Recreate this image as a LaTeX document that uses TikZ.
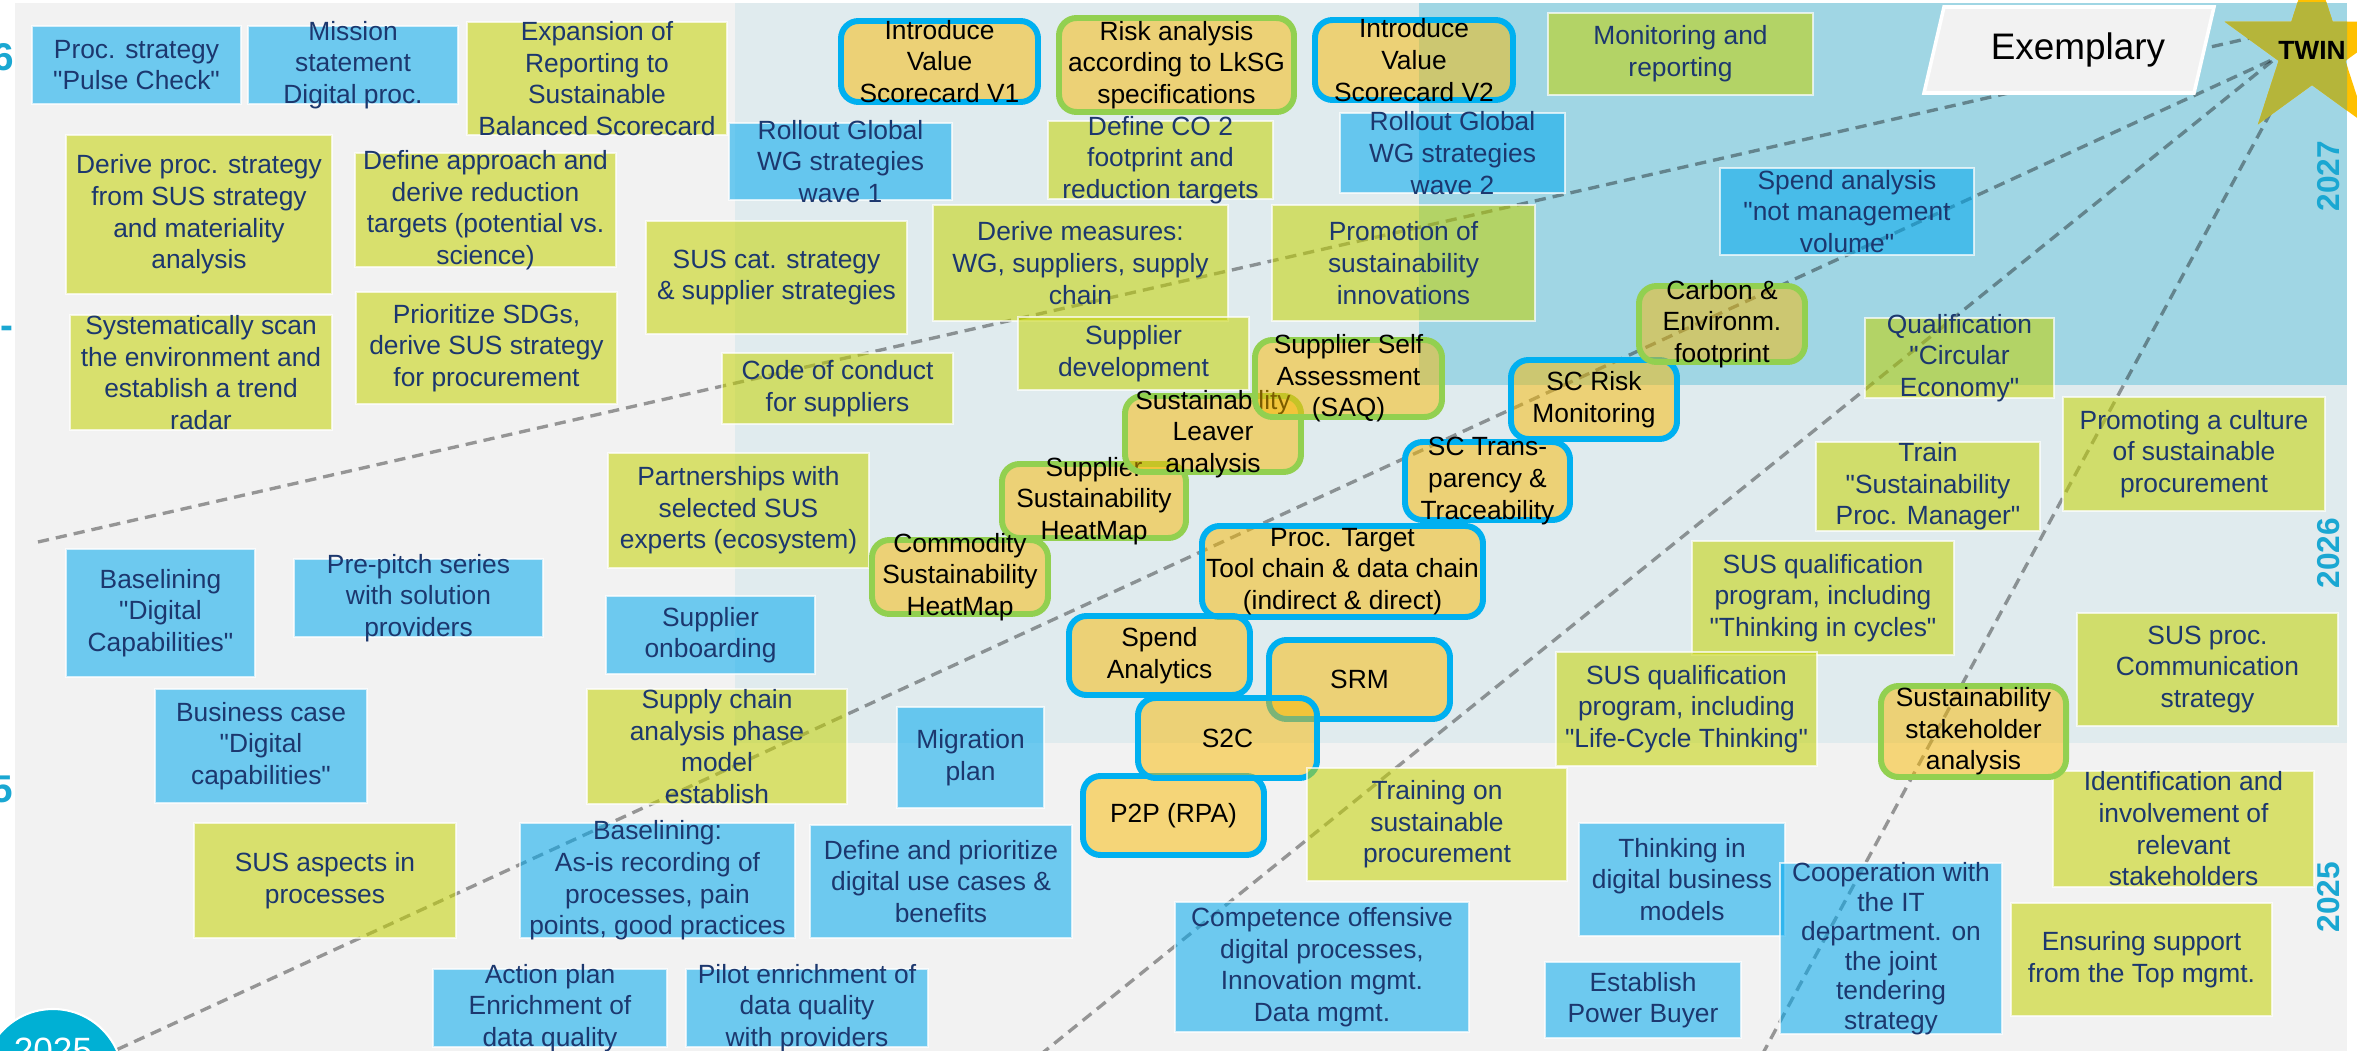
\documentclass[tikz,border=0pt]{standalone}
\usepackage{fontspec}
\setmainfont{Liberation Sans}
\newfontfamily\boxfont{Liberation Sans}
\usetikzlibrary{shapes.geometric}

\definecolor{bggrey}{HTML}{F2F2F2}
\definecolor{zonelight}{HTML}{E0EBEE}
\definecolor{zoneblue}{HTML}{A0D6E4}
\definecolor{boxblue}{RGB}{0,168,238}
\definecolor{boxgreen}{RGB}{196,210,0}
\definecolor{boxorange}{RGB}{248,185,0}
\definecolor{framecyan}{HTML}{00B0F0}
\definecolor{framegreen}{HTML}{92D050}
\definecolor{navytxt}{RGB}{28,55,110}
\definecolor{yearcyan}{HTML}{1AA7D2}
\definecolor{ballteal}{HTML}{00B0D4}
\definecolor{starorange}{HTML}{FFC000}
\definecolor{starolive}{HTML}{B5B53A}

\begin{document}
\begin{tikzpicture}[
    x=1cm, y=-1cm,
    bbox/.style={rectangle, fill=boxblue, fill opacity=0.55, draw=white, draw opacity=0.7, line width=0.5pt, inner sep=0pt},
    gbox/.style={bbox, fill=boxgreen},
    obox/.style={rectangle, rounded corners=5pt, fill=boxorange, fill opacity=0.5, line width=1.7pt, inner sep=0pt},
    cframe/.style={obox, draw=framecyan},
    gframe/.style={obox, draw=framegreen},
    txt/.style={font=\boxfont\fontsize{7.5}{9}\selectfont, text=navytxt, align=center, text opacity=1, draw=none, fill=none, inner sep=0pt},
    otxt/.style={txt, text=black},
    year/.style={font=\fontsize{9}{9}\selectfont\bfseries, text=yearcyan, rotate=90, inner sep=0pt},
    yearfrag/.style={font=\fontsize{11}{11}\selectfont\bfseries, text=yearcyan, inner sep=0pt, anchor=east},
    yearball/.style={circle, fill=ballteal, draw=white, line width=0.6pt, minimum size=1.40cm, inner sep=0pt},
    twinstar/.style={star, star points=5, star point ratio=2.618, minimum size=1.84cm, inner sep=0pt},
    ray/.style={draw=black, draw opacity=0.38, line width=0.95pt, dash pattern=on 3.2pt off 2pt}
]
    \useasboundingbox (0,0) rectangle (23.57,10.51);
    \clip (0,0) rectangle (23.57,10.51);

    % Background zones
    \fill[white] (0,0) rectangle (23.57,10.51);
    \fill[bggrey] (0.15,0.03) rectangle (23.47,10.51);
    \fill[zonelight] (7.35,0.03) rectangle (23.47,7.43);
    \fill[zoneblue] (14.19,0.03) rectangle (23.47,3.85);

    % Year labels
    \node[yearfrag] (frag6) at (0.15,0.57) {6};
    \node[yearfrag] (fragdash) at (0.14,3.32) {-};
    \node[yearfrag] (frag5) at (0.14,7.89) {5};
    \node[year] (yr2027) at (23.29,1.76) {2027};
    \node[year] (yr2026) at (23.29,5.53) {2026};
    \node[year] (yr2025lbl) at (23.29,8.97) {2025};

    % Start ball
    \node[yearball] (yr2025) at (0.53,10.79) {};
    \node[font=\fontsize{10}{10}\selectfont, text=white, inner sep=0pt] (yr2025txt) at (0.53,10.50) {2025};

    % Rays towards the star
    \coordinate (r1a) at (0.38,5.42);
    \coordinate (r1b) at (22.50,0.38);
    \coordinate (r2b) at (22.76,0.58);
    \coordinate (r3a) at (10.40,10.55);
    \coordinate (r3b) at (22.76,0.58);
    \coordinate (r4a) at (17.62,10.55);
    \coordinate (r4b) at (22.85,0.86);
    \draw[ray] (r1a) -- (r1b);
    \draw[ray] (yr2025) -- (r2b);
    \draw[ray] (r3a) -- (r3b);
    \draw[ray] (r4a) -- (r4b);

    % Exemplary
    \filldraw[fill=bggrey, draw=white, line width=1pt] (19.44,0.07) -- (22.14,0.07) -- (21.94,0.93) -- (19.24,0.93) -- cycle;
    \node[font=\fontsize{10.5}{12}\selectfont, inner sep=0pt] (exemplary) at (20.78,0.50) {Exemplary};

    % TWIN star
    \node[twinstar, fill=starorange] (twin) at (23.12,0.50) {};
    \begin{scope}
        \clip (14.19,0.03) rectangle (23.47,3.85);
        \node[twinstar, fill=starolive] (twinshade) at (twin) {};
    \end{scope}
    \node[font=\fontsize{7.5}{9}\selectfont\bfseries, inner sep=0pt] (twintext) at (twin) {TWIN};

    % Proc. strategy
    \node[bbox, minimum width=2.09cm, minimum height=0.78cm, label={[txt]center:{Proc. strategy\\"Pulse Check"}}] (pulse) at (1.365,0.65) {};
    % Mission statement
    \node[bbox, minimum width=2.10cm, minimum height=0.78cm, label={[txt]center:{Mission\\statement\\Digital proc.}}] (mission) at (3.53,0.65) {};
    % Expansion of reporting
    \node[gbox, minimum width=2.60cm, minimum height=1.13cm, label={[txt]center:{Expansion of\\Reporting to\\Sustainable\\Balanced Scorecard}}] (expansion) at (5.97,0.785) {};
    % Value Scorecard V1
    \node[cframe, minimum width=1.97cm, minimum height=0.81cm, label={[otxt]center:{Introduce\\Value\\Scorecard V1}}] (valuev1) at (9.395,0.615) {};
    % Risk analysis LkSG
    \node[gframe, minimum width=2.35cm, minimum height=0.94cm, label={[otxt]center:{Risk analysis\\according to LkSG\\specifications}}] (lksg) at (11.765,0.65) {};
    % Value Scorecard V2
    \node[cframe, minimum width=1.98cm, minimum height=0.80cm, label={[otxt]center:{Introduce\\Value\\Scorecard V2}}] (valuev2) at (14.14,0.60) {};
    % Monitoring
    \node[gbox, minimum width=2.65cm, minimum height=0.82cm, label={[txt]center:{Monitoring and\\reporting}}] (monitor) at (16.805,0.54) {};
    % Derive proc. strategy
    \node[gbox, minimum width=2.66cm, minimum height=1.59cm, label={[txt]center:{Derive proc. strategy\\from SUS strategy\\and materiality\\analysis}}] (deriveproc) at (1.99,2.145) {};
    % Define approach
    \node[gbox, minimum width=2.61cm, minimum height=1.14cm, label={[txt]center:{Define approach and\\derive reduction\\targets (potential vs.\\science)}}] (approach) at (4.855,2.10) {};
    % Rollout wave 1
    \node[bbox, minimum width=2.23cm, minimum height=0.77cm, label={[txt]center:{Rollout Global\\WG strategies\\wave 1}}] (rollout1) at (8.405,1.615) {};
    % CO2 footprint
    \node[gbox, minimum width=2.25cm, minimum height=0.78cm, label={[txt]center:{Define CO 2\\footprint and\\reduction targets}}] (co2) at (11.605,1.60) {};
    % Rollout wave 2
    \node[bbox, minimum width=2.25cm, minimum height=0.80cm, label={[txt]center:{Rollout Global\\WG strategies\\wave 2}}] (rollout2) at (14.525,1.53) {};
    % Spend analysis
    \node[bbox, minimum width=2.54cm, minimum height=0.87cm, label={[txt]center:{Spend analysis\\"not management\\volume"}}] (spendana) at (18.47,2.115) {};
    % SUS category strategy
    \node[gbox, minimum width=2.61cm, minimum height=1.13cm, label={[txt]center:{SUS cat. strategy\\\& supplier strategies}}] (suscat) at (7.765,2.775) {};
    % Derive measures
    \node[gbox, minimum width=2.95cm, minimum height=1.16cm, label={[txt]center:{Derive measures:\\WG, suppliers, supply\\chain}}] (measures) at (10.805,2.63) {};
    % Promotion of innovations
    \node[gbox, minimum width=2.63cm, minimum height=1.16cm, label={[txt]center:{Promotion of\\sustainability\\innovations}}] (promotion) at (14.035,2.63) {};
    % Trend radar
    \node[gbox, minimum width=2.62cm, minimum height=1.15cm, label={[txt]center:{Systematically scan\\the environment and\\establish a trend\\radar}}] (scan) at (2.01,3.725) {};
    % Prioritize SDGs
    \node[gbox, minimum width=2.61cm, minimum height=1.12cm, label={[txt]center:{Prioritize SDGs,\\derive SUS strategy\\for procurement}}] (sdgs) at (4.865,3.48) {};
    % Code of conduct
    \node[gbox, minimum width=2.31cm, minimum height=0.71cm, label={[txt]center:{Code of conduct\\for suppliers}}] (conduct) at (8.375,3.885) {};
    % Supplier development
    \node[gbox, minimum width=2.31cm, minimum height=0.73cm, label={[txt]center:{Supplier\\development}}] (suppdev) at (11.335,3.535) {};
    % Circular economy
    \node[gbox, minimum width=1.89cm, minimum height=0.80cm, label={[txt]center:{Qualification\\"Circular\\Economy"}}] (circular) at (19.595,3.58) {};
    % Culture
    \node[gbox, minimum width=2.62cm, minimum height=1.14cm, label={[txt]center:{Promoting a culture\\of sustainable\\procurement}}] (culture) at (21.94,4.54) {};
    % Partnerships
    \node[gbox, minimum width=2.61cm, minimum height=1.15cm, label={[txt]center:{Partnerships with\\selected SUS\\experts (ecosystem)}}] (partner) at (7.385,5.105) {};
    % Train manager
    \node[gbox, minimum width=2.24cm, minimum height=0.89cm, label={[txt]center:{Train\\"Sustainability\\Proc. Manager"}}] (train) at (19.28,4.865) {};
    % Supplier HeatMap
    \node[gframe, minimum width=1.84cm, minimum height=0.74cm, label={[otxt]center:{Supplier\\Sustainability\\HeatMap}}] (suppheat) at (10.94,5.01) {};
    % Commodity HeatMap
    \node[gframe, minimum width=1.76cm, minimum height=0.74cm, label={[otxt]center:{Commodity\\Sustainability\\HeatMap}}] (commheat) at (9.60,5.77) {};
    % Leaver analysis
    \node[gframe, minimum width=1.76cm, minimum height=0.76cm, label={[otxt]center:{Sustainability\\Leaver\\analysis}}] (leaver) at (12.13,4.34) {};
    % SAQ
    \node[gframe, minimum width=1.87cm, minimum height=0.77cm, label={[otxt]center:{Supplier Self\\Assessment\\(SAQ)}}] (saq) at (13.485,3.785) {};
    % SC Risk
    \node[cframe, minimum width=1.66cm, minimum height=0.79cm, label={[otxt]center:{SC Risk\\Monitoring}}] (scrisk) at (15.94,3.995) {};
    % Carbon footprint
    \node[gframe, minimum width=1.66cm, minimum height=0.76cm, label={[otxt]center:{Carbon \&\\Environm.\\footprint}}] (carbon) at (17.22,3.24) {};
    % SC Transparency
    \node[cframe, minimum width=1.65cm, minimum height=0.78cm, label={[otxt]center:{SC Trans-\\parency \&\\Traceability}}] (sctrans) at (14.875,4.81) {};
    % Thinking in cycles
    \node[gbox, minimum width=2.62cm, minimum height=1.14cm, label={[txt]center:{SUS qualification\\program, including\\"Thinking in cycles"}}] (cycles) at (18.23,5.98) {};
    % Baselining capabilities
    \node[bbox, minimum width=1.89cm, minimum height=1.28cm, label={[txt]center:{Baselining\\"Digital\\Capabilities"}}] (basedig) at (1.605,6.13) {};
    % Pre-pitch
    \node[bbox, minimum width=2.49cm, minimum height=0.78cm, label={[txt]center:{Pre-pitch series\\with solution\\providers}}] (prepitch) at (4.185,5.98) {};
    % Supplier onboarding
    \node[bbox, minimum width=2.09cm, minimum height=0.78cm, label={[txt]center:{Supplier\\onboarding}}] (onboard) at (7.105,6.35) {};
    % Proc. Target
    \node[cframe, minimum width=2.81cm, minimum height=0.91cm, label={[otxt]center:{Proc. Target\\Tool chain \& data chain\\(indirect \& direct)}}] (proctarget) at (13.425,5.715) {};
    % Spend Analytics
    \node[cframe, minimum width=1.81cm, minimum height=0.79cm, label={[otxt]center:{Spend\\Analytics}}] (spendanalytics) at (11.595,6.555) {};
    % SRM
    \node[cframe, minimum width=1.81cm, minimum height=0.79cm, label={[otxt]center:{SRM}}] (srm) at (13.595,6.795) {};
    % Communication strategy
    \node[gbox, minimum width=2.61cm, minimum height=1.13cm, label={[txt]center:{SUS proc.\\Communication\\strategy}}] (commstrat) at (22.075,6.695) {};
    % Business case
    \node[bbox, minimum width=2.12cm, minimum height=1.14cm, label={[txt]center:{Business case\\"Digital\\capabilities"}}] (bizcase) at (2.61,7.46) {};
    % Supply chain analysis
    \node[gbox, minimum width=2.60cm, minimum height=1.15cm, label={[txt]center:{Supply chain\\analysis phase\\model\\establish}}] (supplychain) at (7.17,7.465) {};
    % Migration plan
    \node[bbox, minimum width=1.47cm, minimum height=1.01cm, label={[txt]center:{Migration\\plan}}] (migration) at (9.705,7.575) {};
    % P2P
    \node[cframe, minimum width=1.81cm, minimum height=0.79cm, label={[otxt]center:{P2P (RPA)}}] (p2p) at (11.735,8.155) {};
    % S2C
    \node[cframe, minimum width=1.79cm, minimum height=0.80cm, label={[otxt]center:{S2C}}] (s2c) at (12.275,7.38) {};
    % Life-Cycle Thinking
    \node[gbox, minimum width=2.61cm, minimum height=1.14cm, label={[txt]center:{SUS qualification\\program, including\\"Life-Cycle Thinking"}}] (lct) at (16.865,7.09) {};
    % Identification of stakeholders
    \node[gbox, minimum width=2.61cm, minimum height=1.16cm, label={[txt]center:{Identification and\\involvement of\\relevant\\stakeholders}}] (identify) at (21.835,8.29) {};
    % Stakeholder analysis
    \node[gframe, minimum width=1.85cm, minimum height=0.91cm, label={[otxt]center:{Sustainability\\stakeholder\\analysis}}] (stakeholder) at (19.735,7.315) {};
    % Training on procurement
    \node[gbox, minimum width=2.60cm, minimum height=1.13cm, label={[txt]center:{Training on\\sustainable\\procurement}}] (trainingsus) at (14.37,8.245) {};
    % SUS aspects
    \node[gbox, minimum width=2.62cm, minimum height=1.15cm, label={[txt]center:{SUS aspects in\\processes}}] (susasp) at (3.25,8.805) {};
    % Baselining as-is
    \node[bbox, minimum width=2.75cm, minimum height=1.15cm, label={[txt]center:{Baselining:\\As-is recording of\\processes, pain\\points, good practices}}] (baseasis) at (6.575,8.805) {};
    % Use cases
    \node[bbox, minimum width=2.62cm, minimum height=1.13cm, label={[txt]center:{Define and prioritize\\digital use cases \&\\benefits}}] (usecases) at (9.41,8.815) {};
    % Business models
    \node[bbox, minimum width=2.06cm, minimum height=1.13cm, label={[txt]center:{Thinking in\\digital business\\models}}] (bizmodels) at (16.82,8.795) {};
    % IT cooperation
    \node[bbox, minimum width=2.22cm, minimum height=1.71cm, label={[txt, font=\boxfont\fontsize{7.5}{8.4}\selectfont]center:{Cooperation with\\the IT\\department. on\\the joint\\tendering\\strategy}}] (itcoop) at (18.91,9.485) {};
    % Competence offensive
    \node[bbox, minimum width=2.94cm, minimum height=1.30cm, label={[txt]center:{Competence offensive\\digital processes,\\Innovation mgmt.\\Data mgmt.}}] (competence) at (13.22,9.67) {};
    % Top management
    \node[gbox, minimum width=2.61cm, minimum height=1.13cm, label={[txt]center:{Ensuring support\\from the Top mgmt.}}] (topmgmt) at (21.415,9.595) {};
    % Action plan
    \node[bbox, minimum width=2.34cm, minimum height=0.78cm, label={[txt]center:{Action plan\\Enrichment of\\data quality}}] (actionplan) at (5.50,10.08) {};
    % Pilot enrichment
    \node[bbox, minimum width=2.42cm, minimum height=0.78cm, label={[txt]center:{Pilot enrichment of\\data quality\\with providers}}] (pilot) at (8.07,10.08) {};
    % Power Buyer
    \node[bbox, minimum width=1.96cm, minimum height=0.76cm, label={[txt]center:{Establish\\Power Buyer}}] (powerbuyer) at (16.43,10.00) {};
\end{tikzpicture}
\end{document}
